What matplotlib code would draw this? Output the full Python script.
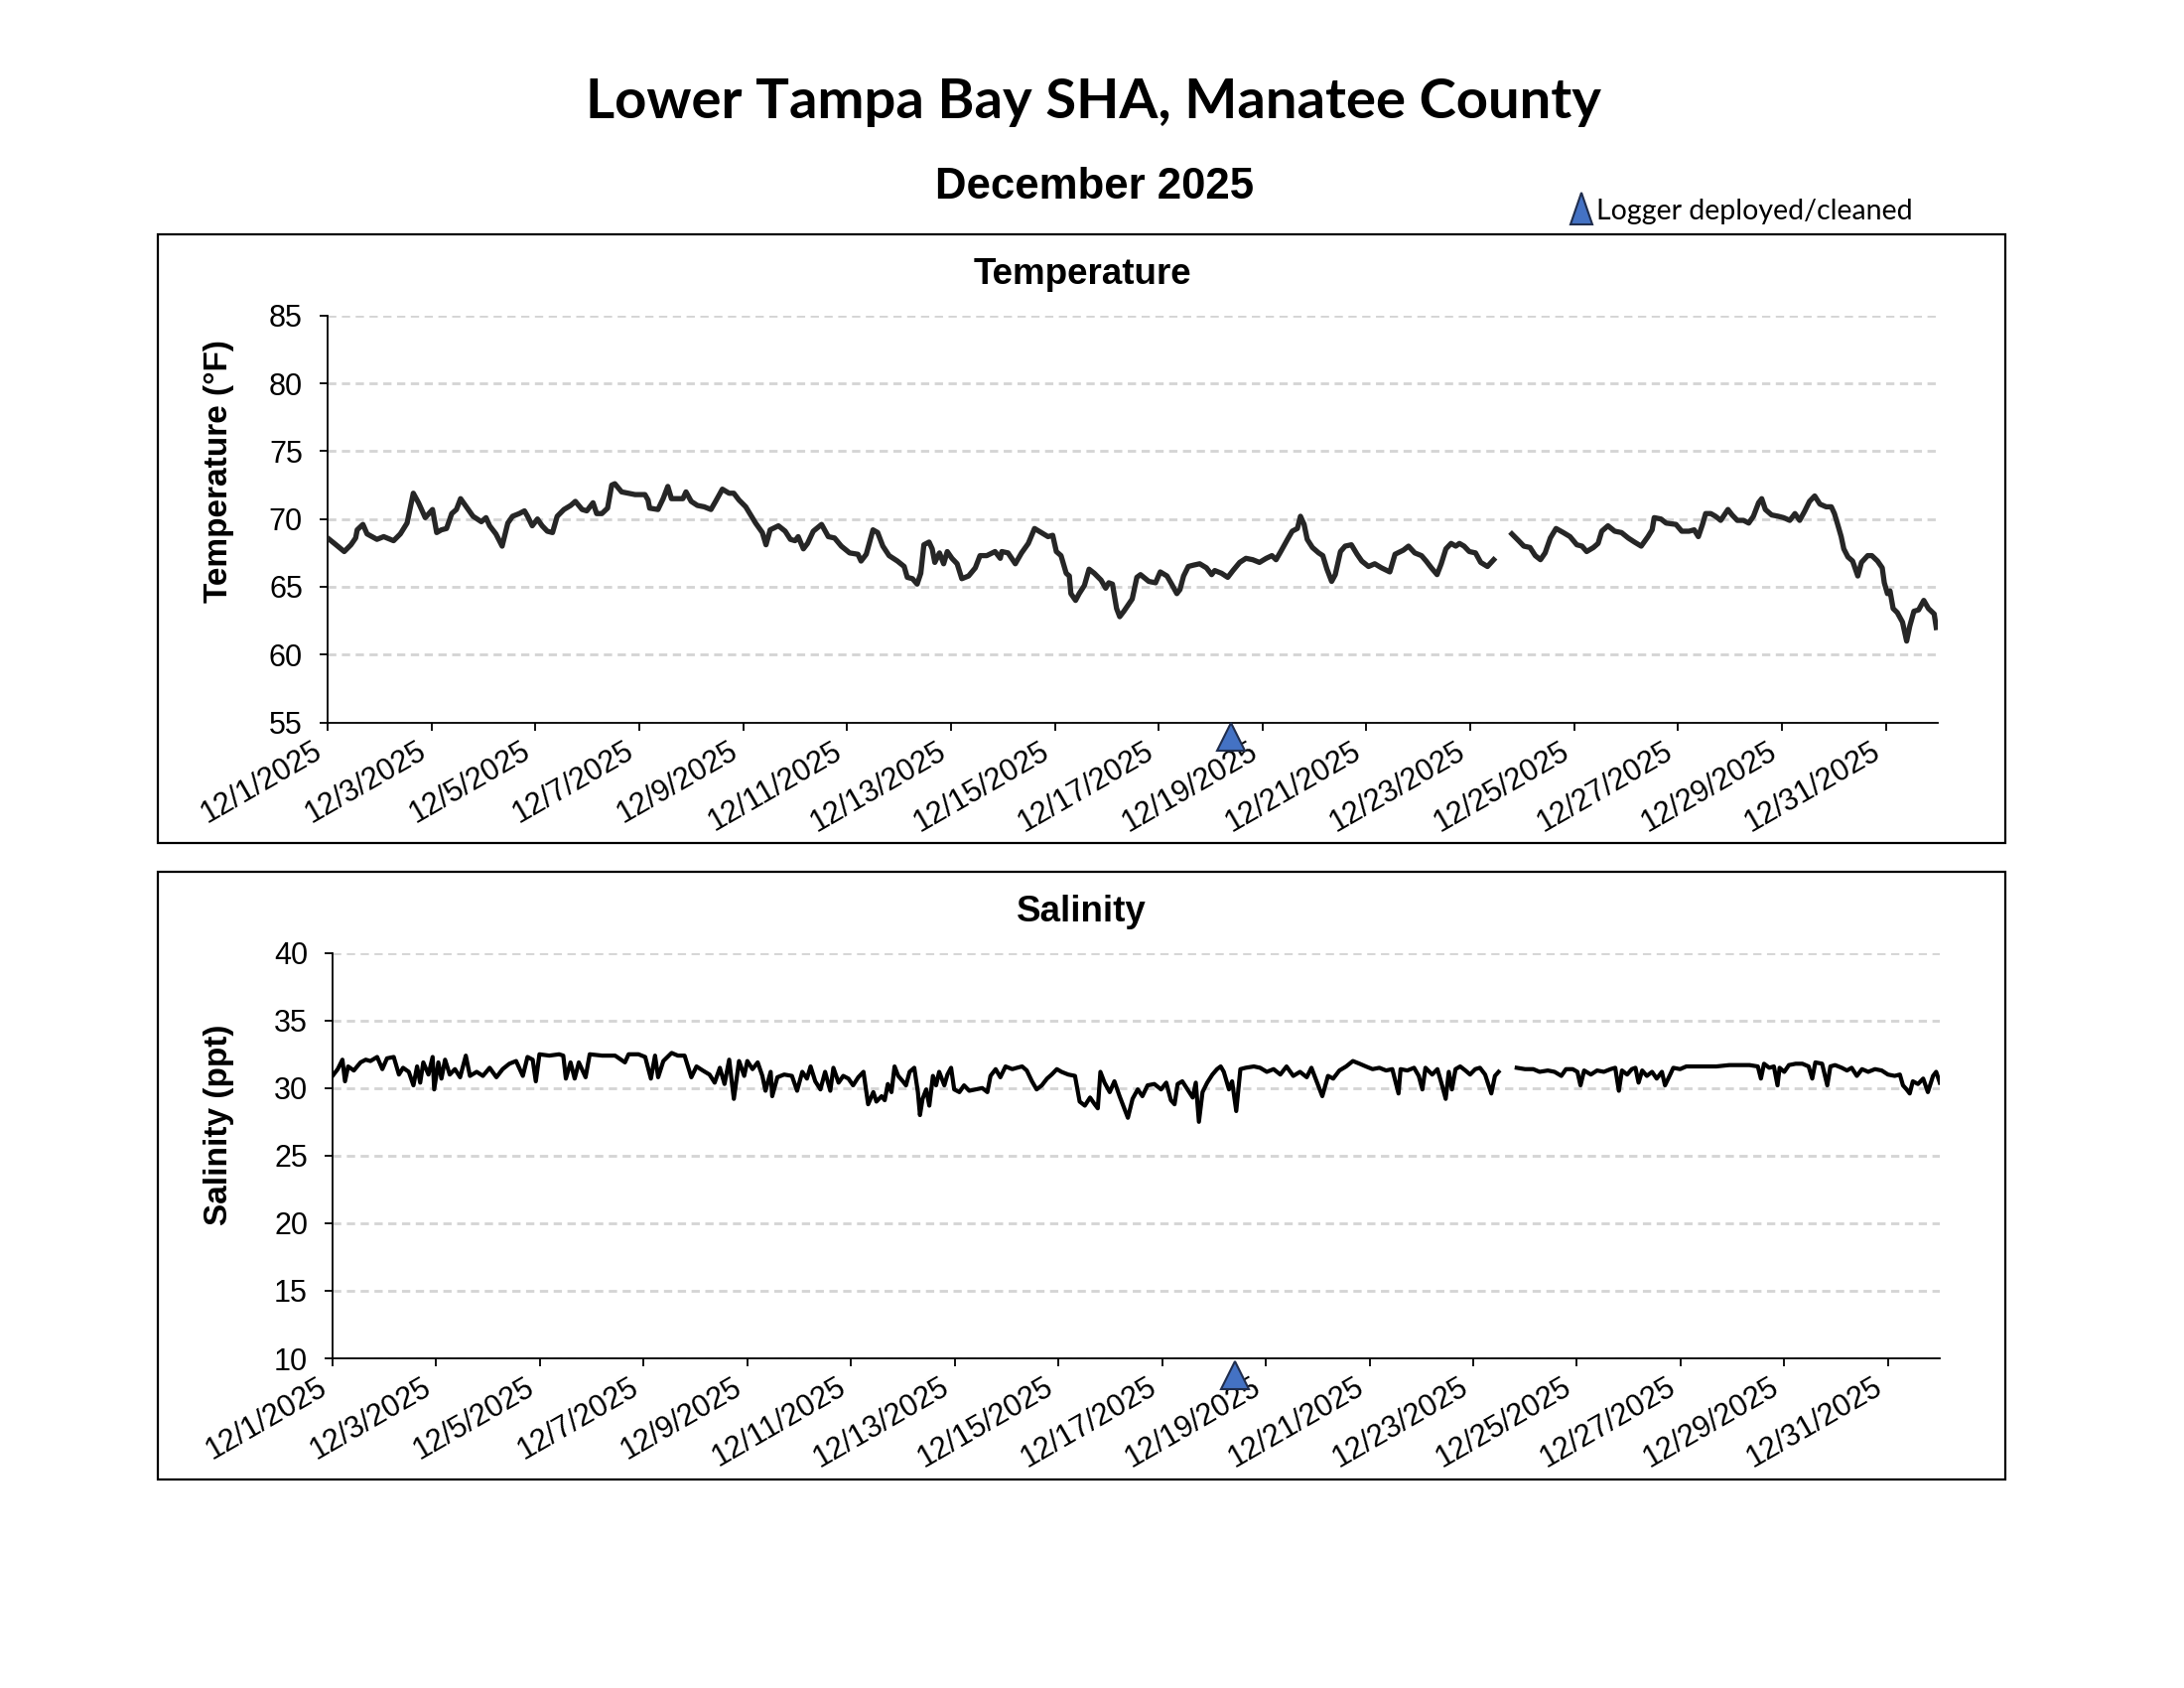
import numpy as np
import pandas as pd
import matplotlib
matplotlib.use("Agg")
import matplotlib.pyplot as plt
from matplotlib.patches import Rectangle, Polygon

plt.rcParams['lines.scale_dashes'] = False
plt.rcParams['font.family'] = ['Liberation Sans', 'DejaVu Sans']

# ---------------- data (days since 12/1/2025 00:00) ----------------
temp_day = [0, 0.13, 0.32, 0.45, 0.54, 0.57, 0.68, 0.76, 0.95, 1.08, 1.27, 1.40, 1.53, 1.65, 1.75, 1.88,
            2.02, 2.10, 2.19, 2.29, 2.39, 2.48, 2.56, 2.67, 2.80, 2.96, 3.05, 3.12, 3.24, 3.36, 3.47, 3.56,
            3.69, 3.79, 3.85, 3.94, 4.04, 4.13, 4.23, 4.33, 4.42, 4.55, 4.68, 4.77, 4.90, 4.99, 5.11, 5.18,
            5.28, 5.39, 5.47, 5.53, 5.66, 5.79, 5.92, 6.11, 6.17, 6.20, 6.36, 6.46, 6.55, 6.62, 6.74, 6.84,
            6.90, 7.00, 7.12, 7.25, 7.38, 7.47, 7.60, 7.73, 7.82, 7.92, 8.05,
            8.24, 8.37, 8.44, 8.52, 8.68, 8.81, 8.91, 9.00, 9.06, 9.16, 9.24, 9.35, 9.51, 9.64, 9.76, 9.89,
            10.05, 10.21, 10.27, 10.37, 10.50, 10.59, 10.69, 10.81, 10.97, 11.10, 11.16, 11.26, 11.35, 11.42,
            11.48, 11.58, 11.64, 11.69, 11.78, 11.86, 11.93, 12.02, 12.12, 12.21, 12.34, 12.47, 12.56, 12.69,
            12.85, 12.95, 12.98, 13.10, 13.24, 13.36, 13.49, 13.61, 13.74, 13.87, 13.96, 14.03, 14.12, 14.22,
            14.28, 14.31, 14.40, 14.47, 14.57, 14.66, 14.76, 14.89, 14.98, 15.04, 15.11, 15.19, 15.25, 15.33,
            15.49, 15.58, 15.65, 15.81, 15.94,
            16.03, 16.16, 16.25, 16.35, 16.41, 16.48, 16.57, 16.67, 16.79, 16.92, 17.02, 17.08, 17.21, 17.33,
            17.43, 17.56, 17.68, 17.81, 17.94, 18.07, 18.18, 18.26, 18.35, 18.48, 18.57, 18.67, 18.73, 18.80,
            18.86, 18.96, 19.08, 19.16, 19.24, 19.33, 19.40, 19.50, 19.59, 19.71, 19.82, 19.91, 20.04, 20.16,
            20.29, 20.45, 20.55, 20.71, 20.81, 20.93, 21.06, 21.15, 21.25, 21.36, 21.44, 21.53, 21.63, 21.72,
            21.79, 21.88, 21.98, 22.10, 22.20, 22.33, 22.45, 22.60, 22.80, 22.93, 23.03, 23.15, 23.25, 23.35,
            23.44, 23.54, 23.65, 23.79, 23.92,
            24.05, 24.15, 24.24, 24.37, 24.46, 24.53, 24.65, 24.78, 24.91, 25.04, 25.16, 25.29, 25.42, 25.50,
            25.54, 25.67, 25.77, 25.96, 26.07, 26.21, 26.31, 26.39, 26.47, 26.53, 26.63, 26.72, 26.82, 26.96,
            27.04, 27.14, 27.26, 27.36, 27.45, 27.55, 27.61, 27.68, 27.80, 27.93, 28.03, 28.15, 28.25, 28.34,
            28.44, 28.53, 28.63, 28.73, 28.85, 28.95, 29.01, 29.08, 29.14, 29.19, 29.27, 29.36, 29.46, 29.53,
            29.65, 29.73, 29.84, 29.93, 29.97, 30.03, 30.08, 30.14, 30.22, 30.32, 30.40, 30.46, 30.54, 30.63,
            30.73, 30.82, 30.93, 30.97]
temp_f = [68.6, 68.2, 67.6, 68.1, 68.6, 69.2, 69.6, 68.9, 68.5, 68.7, 68.4, 68.9, 69.7, 71.9, 71.2, 70.1,
          70.7, 69.0, 69.2, 69.3, 70.4, 70.7, 71.5, 70.9, 70.2, 69.8, 70.1, 69.5, 68.9, 68.0, 69.7, 70.2,
          70.4, 70.6, 70.2, 69.5, 70.0, 69.5, 69.1, 69.0, 70.2, 70.7, 71.0, 71.3, 70.7, 70.6, 71.2, 70.4,
          70.4, 70.8, 72.5, 72.6, 72.0, 71.9, 71.8, 71.8, 71.4, 70.8, 70.7, 71.5, 72.4, 71.5, 71.5, 71.5,
          72.0, 71.3, 71.0, 70.9, 70.7, 71.3, 72.2, 71.9, 71.9, 71.4, 70.9,
          69.7, 69.0, 68.1, 69.2, 69.5, 69.1, 68.5, 68.4, 68.7, 67.8, 68.2, 69.1, 69.6, 68.7, 68.6, 68.0,
          67.5, 67.4, 66.9, 67.4, 69.2, 69.0, 68.0, 67.3, 66.9, 66.5, 65.7, 65.6, 65.2, 66.0,
          68.1, 68.3, 67.8, 66.8, 67.5, 66.7, 67.6, 67.1, 66.7, 65.6, 65.8, 66.4, 67.3, 67.3,
          67.6, 67.1, 67.6, 67.5, 66.7, 67.5, 68.2, 69.3, 69.0, 68.7, 68.8, 67.6, 67.3, 66.0,
          65.8, 64.5, 64.0, 64.5, 65.1, 66.3, 66.0, 65.5, 64.9, 65.3, 65.2, 63.4, 62.8, 63.2,
          64.1, 65.7, 65.9, 65.4, 65.3,
          66.1, 65.8, 65.2, 64.5, 64.8, 65.8, 66.5, 66.6, 66.7, 66.4, 65.9, 66.2, 66.0, 65.7,
          66.2, 66.8, 67.1, 67.0, 66.8, 67.1, 67.3, 67.0, 67.6, 68.5, 69.1, 69.3, 70.2, 69.6,
          68.5, 67.9, 67.5, 67.3, 66.3, 65.4, 65.9, 67.6, 68.0, 68.1, 67.4, 66.9, 66.5, 66.7,
          66.4, 66.1, 67.4, 67.7, 68.0, 67.5, 67.3, 66.9, 66.4, 65.9, 66.7, 67.8, 68.2, 68.0,
          68.2, 68.0, 67.6, 67.5, 66.8, 66.5, 67.0, None, 68.9, 68.4, 68.0, 67.9, 67.3, 67.0,
          67.5, 68.6, 69.3, 69.0, 68.7,
          68.1, 68.0, 67.6, 67.9, 68.2, 69.1, 69.5, 69.1, 69.0, 68.6, 68.3, 68.0, 68.7, 69.2,
          70.1, 70.0, 69.7, 69.6, 69.1, 69.1, 69.2, 68.7, 69.6, 70.4, 70.4, 70.2, 69.9, 70.7,
          70.3, 69.9, 69.9, 69.7, 70.2, 71.2, 71.5, 70.7, 70.3, 70.2, 70.1, 69.9, 70.4, 69.9,
          70.6, 71.3, 71.7, 71.1, 70.9, 70.9, 70.4, 69.5, 68.7, 67.8, 67.2, 66.9, 65.8, 66.8,
          67.3, 67.3, 66.9, 66.4, 65.3, 64.5, 64.7, 63.4, 63.1, 62.4, 61.0, 62.1, 63.2, 63.3,
          64.0, 63.4, 63.0, 62.0]

sal_day = [0, 0.10, 0.19, 0.24, 0.30, 0.41, 0.54, 0.64, 0.73, 0.86, 0.96, 1.05, 1.18, 1.28, 1.36, 1.47,
           1.56, 1.63, 1.69, 1.75, 1.85, 1.93, 1.96, 2.04, 2.10, 2.17, 2.26, 2.36, 2.46, 2.57, 2.65, 2.78,
           2.90, 3.03, 3.16, 3.28, 3.41, 3.54, 3.67, 3.76, 3.86, 3.92, 3.99, 4.18, 4.37, 4.45, 4.50, 4.59,
           4.67, 4.75, 4.88, 4.96, 5.20, 5.45, 5.64, 5.71, 5.90, 6.03, 6.14, 6.22, 6.28, 6.38, 6.54, 6.66,
           6.79, 6.92, 7.02, 7.14, 7.27, 7.37, 7.47, 7.56, 7.65, 7.74, 7.84, 7.94,
           8.00, 8.10, 8.20, 8.29, 8.35, 8.45, 8.48, 8.58, 8.71, 8.86, 8.96, 9.06, 9.15, 9.22, 9.31, 9.41,
           9.50, 9.60, 9.66, 9.76, 9.85, 9.95, 10.04, 10.14, 10.24, 10.33, 10.43, 10.49, 10.59, 10.65, 10.71,
           10.78, 10.84, 10.91, 11.00, 11.06, 11.13, 11.22, 11.29, 11.33, 11.38, 11.45, 11.51, 11.58, 11.64,
           11.70, 11.80, 11.86, 11.93, 11.99, 12.09, 12.18, 12.28, 12.40, 12.53, 12.63, 12.69, 12.79, 12.88,
           12.98, 13.11, 13.20, 13.30, 13.39, 13.49, 13.58, 13.68, 13.78, 13.87, 13.97, 14.06, 14.19, 14.32,
           14.41, 14.51, 14.61, 14.70, 14.76, 14.81, 14.89, 14.99, 15.08, 15.18, 15.27, 15.34, 15.43, 15.53,
           15.62, 15.72, 15.85,
           15.98, 16.08, 16.17, 16.24, 16.30, 16.39, 16.49, 16.59, 16.65, 16.71, 16.78, 16.87, 16.97, 17.06,
           17.13, 17.19, 17.29, 17.35, 17.43, 17.51, 17.61, 17.77, 17.89, 18.02, 18.15, 18.28, 18.40, 18.53,
           18.66, 18.79, 18.88, 18.98, 19.09, 19.20, 19.30, 19.42, 19.55, 19.68, 19.81, 19.93, 20.06, 20.19,
           20.32, 20.44, 20.56, 20.60, 20.73, 20.86, 20.95, 21.02, 21.08, 21.21, 21.31, 21.40, 21.47, 21.53,
           21.59, 21.66, 21.75, 21.85, 21.94, 22.04, 22.13, 22.23, 22.35, 22.42, 22.49, 22.65, 22.84, 23.00,
           23.16, 23.28, 23.44, 23.57, 23.70, 23.79, 23.92,
           24.01, 24.07, 24.14, 24.27, 24.39, 24.52, 24.65, 24.74, 24.81, 24.87, 24.97, 25.06, 25.13, 25.19,
           25.26, 25.35, 25.45, 25.54, 25.64, 25.70, 25.80, 25.86, 25.99, 26.11, 26.24, 26.43, 26.69, 26.94,
           27.14, 27.33, 27.49, 27.55, 27.61, 27.71, 27.80, 27.87, 27.91, 28.00, 28.09, 28.22, 28.35, 28.47,
           28.54, 28.60, 28.73, 28.83, 28.89, 28.98, 29.11, 29.21, 29.30, 29.40, 29.50, 29.62, 29.75, 29.88,
           30.00, 30.13, 30.23, 30.29, 30.36, 30.42, 30.48, 30.58, 30.68, 30.77, 30.87, 30.93, 31.00]
sal_ppt = [30.9, 31.4, 32.1, 30.5, 31.6, 31.3, 31.9, 32.1, 32.0, 32.3, 31.4, 32.2, 32.3, 31.0, 31.5, 31.2,
           30.2, 31.6, 30.4, 31.9, 31.0, 32.3, 29.9, 31.9, 30.7, 32.1, 31.0, 31.4, 30.8, 32.4, 30.9, 31.2,
           30.9, 31.5, 30.8, 31.4, 31.8, 32.0, 30.9, 32.3, 32.1, 30.5, 32.5, 32.4, 32.5, 32.4, 30.7, 31.9,
           30.7, 31.9, 30.8, 32.5, 32.4, 32.4, 31.9, 32.5, 32.5, 32.3, 30.7, 32.4, 30.8, 32.0, 32.6, 32.4,
           32.4, 30.8, 31.6, 31.3, 31.0, 30.4, 31.5, 30.3, 32.1, 29.2, 32.0, 30.9,
           32.0, 31.4, 31.9, 30.9, 29.8, 31.2, 29.4, 30.8, 31.0, 30.9, 29.8, 31.2, 30.7, 31.6, 30.5, 29.9,
           31.2, 29.8, 31.5, 30.4, 30.9, 30.7, 30.2, 30.8, 31.2, 28.8, 29.7, 29.0, 29.4, 29.1, 30.3,
           29.7, 31.6, 30.9, 30.5, 30.2, 31.2, 31.5, 29.7, 28.0, 29.2, 29.9, 28.7, 30.9, 30.2,
           31.2, 30.2, 31.0, 31.5, 29.9, 29.7, 30.2, 29.8, 29.9, 30.0, 29.7, 30.9, 31.4, 30.8,
           31.6, 31.4, 31.5, 31.6, 31.3, 30.5, 29.9, 30.2, 30.7, 31.0, 31.4, 31.2, 31.0, 30.9,
           29.0, 28.7, 29.3, 28.8, 28.5, 31.2, 30.4, 29.7, 30.5, 29.4, 28.5, 27.8, 29.2, 29.9,
           29.4, 30.2, 30.3,
           29.9, 30.4, 29.1, 28.8, 30.3, 30.5, 29.9, 29.3, 30.4, 27.5, 29.7, 30.4, 31.0, 31.4,
           31.6, 31.2, 29.9, 30.5, 28.3, 31.4, 31.5, 31.6, 31.5, 31.2, 31.4, 31.0, 31.6, 30.9,
           31.2, 30.8, 31.5, 30.5, 29.4, 30.9, 30.7, 31.3, 31.6, 32.0, 31.8, 31.6, 31.4, 31.5,
           31.3, 31.4, 29.6, 31.4, 31.3, 31.5, 30.9, 29.9, 31.5, 31.0, 31.4, 30.2, 29.2, 31.2,
           29.9, 31.4, 31.6, 31.3, 31.0, 31.4, 31.5, 31.0, 29.6, 30.9, 31.2, None, 31.5, 31.4,
           31.4, 31.2, 31.3, 31.2, 30.9, 31.4, 31.4,
           31.2, 30.2, 31.3, 31.0, 31.3, 31.2, 31.4, 31.5, 29.8, 31.3, 31.0, 31.4, 31.5, 30.4,
           31.3, 30.9, 31.2, 30.7, 31.2, 30.2, 31.0, 31.5, 31.4, 31.6, 31.6, 31.6, 31.6, 31.7,
           31.7, 31.7, 31.6, 30.7, 31.8, 31.5, 31.6, 30.2, 31.5, 31.2, 31.7, 31.8, 31.8, 31.6,
           30.7, 31.9, 31.8, 30.2, 31.6, 31.7, 31.5, 31.3, 31.5, 30.9, 31.4, 31.2, 31.4, 31.3,
           31.0, 30.9, 31.0, 30.2, 29.9, 29.6, 30.5, 30.3, 30.7, 29.7, 30.9, 31.2, 30.4]

deploy_day = 17.4
month_start = pd.Timestamp("2025-12-01")
month_end = pd.Timestamp("2026-01-01")
tick_dates = pd.date_range("2025-12-01", "2025-12-31", freq="2D")
tick_labels = [f"{d.month}/{d.day}/{d.year}" for d in tick_dates]

title = "Lower Tampa Bay SHA, Manatee County"
subtitle = "December 2025"
legend_text = "Logger deployed/cleaned"

W, H = 2200, 1700


def fx(px):
    return px / W


def fy(py):
    return 1 - py / H


def to_time(days):
    return month_start + pd.to_timedelta(np.asarray(days, dtype=float), unit="D")


fig = plt.figure(figsize=(22, 17), dpi=100)
fig.patch.set_facecolor("white")

# outer frames
for (x0, y0, x1, y1) in [(159, 236, 2020, 849), (159, 878, 2020, 1490)]:
    fig.add_artist(Rectangle((fx(x0), fy(y1)), fx(x1) - fx(x0), fy(y0) - fy(y1),
                             transform=fig.transFigure, fill=False, lw=1.6, ec="black"))

ax1 = fig.add_axes([fx(330), fy(727.6), fx(1952) - fx(330), fy(317.8) - fy(727.6)])
ax2 = fig.add_axes([fx(335), fy(1368), fx(1954) - fx(335), fy(959.7) - fy(1368)])

specs = [
    (ax1, temp_day, temp_f, (55, 85), "#262626", 3.8, 53.95),
    (ax2, sal_day, sal_ppt, (10, 40), "black", 3.0, 8.75),
]
for ax, d, v, ylim, col, lw, my in specs:
    ax.plot(to_time(d), np.array(v, dtype=float), color=col, lw=lw, solid_joinstyle="round", zorder=3)
    ax.set_xlim(month_start, month_end)
    ax.set_ylim(*ylim)
    ax.set_yticks(np.arange(ylim[0], ylim[1] + 1, 5))
    ax.yaxis.grid(True, color="#d4d4d4", lw=2.0, linestyle=(0, (6, 4)))
    ax.set_axisbelow(True)
    for s in ["top", "right"]:
        ax.spines[s].set_visible(False)
    for s in ["left", "bottom"]:
        ax.spines[s].set_linewidth(1.3)
        ax.spines[s].set_color("black")
    ax.set_xticks(tick_dates)
    ax.set_xticklabels(tick_labels, rotation=30, ha="right", rotation_mode="default")
    ax.tick_params(axis="x", direction="out", length=6, width=1.3, labelsize=22, pad=4)
    ax.tick_params(axis="y", direction="out", length=6, width=1.3, labelsize=22, pad=12)
    ax.plot([month_start + pd.Timedelta(days=deploy_day)], [my], marker="^", ms=20,
            mfc="#4472C4", mec="#1f2d4d", mew=1.5, clip_on=False, zorder=6, ls="none")

# texts
fig.text(fx(1101), fy(103), title, ha="center", va="center", fontsize=40.5,
         fontweight="bold", family=["Lato", "DejaVu Sans"])
fig.text(fx(1103), fy(188), subtitle, ha="center", va="center", fontsize=31.5, fontweight="bold")
fig.add_artist(Polygon([(fx(1582), fy(226)), (fx(1604), fy(226)), (fx(1593), fy(194))],
                       closed=True, transform=fig.transFigure, fc="#4472C4", ec="#1f2d4d", lw=1.5))
fig.text(fx(1608), fy(213), legend_text, ha="left", va="center", fontsize=20.5,
         family=["Lato", "DejaVu Sans"])
fig.text(fx(1090), fy(277), "Temperature", ha="center", va="center", fontsize=26.5, fontweight="bold")
fig.text(fx(1089), fy(918), "Salinity", ha="center", va="center", fontsize=26.5, fontweight="bold")
fig.text(fx(220), fy(475), "Temperature (°F)", ha="center", va="center", rotation=90,
         fontsize=24, fontweight="bold")
fig.text(fx(220), fy(1133), "Salinity (ppt)", ha="center", va="center", rotation=90,
         fontsize=24, fontweight="bold")

fig.savefig("out.png", dpi=100, facecolor="white")
